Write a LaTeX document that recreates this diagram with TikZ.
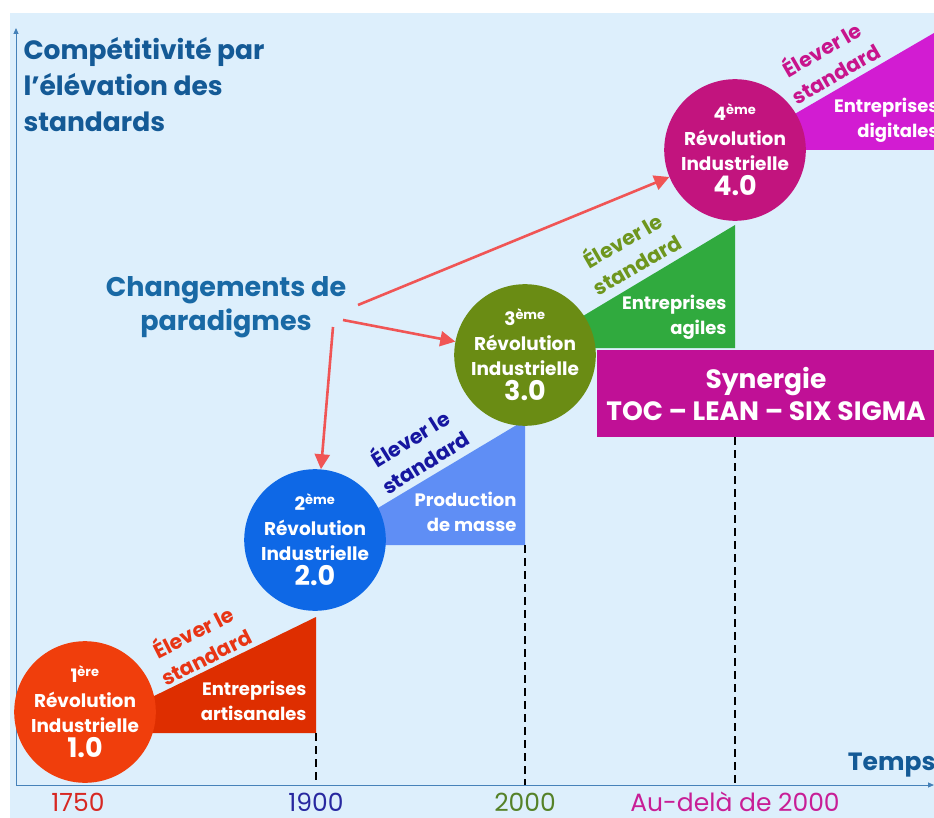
\documentclass[tikz,border=0pt]{standalone}
\usepackage{fontspec}
\setmainfont{Poppins}
\usetikzlibrary{arrows.meta}

\definecolor{bgblue}{RGB}{221,239,252}
\definecolor{axisblue}{RGB}{70,130,185}
\definecolor{titleblue}{RGB}{20,90,150}
\definecolor{chgblue}{RGB}{25,105,165}
\definecolor{arrowred}{RGB}{240,85,85}
\definecolor{revone}{RGB}{240,62,12}
\definecolor{trione}{RGB}{222,46,0}
\definecolor{revtwo}{RGB}{14,104,230}
\definecolor{tritwo}{RGB}{95,142,245}
\definecolor{revthree}{RGB}{106,140,20}
\definecolor{trithree}{RGB}{48,170,62}
\definecolor{revfour}{RGB}{194,20,126}
\definecolor{trifour}{RGB}{210,28,210}
\definecolor{synmag}{RGB}{192,16,150}
\definecolor{elvred}{RGB}{232,52,20}
\definecolor{elvblue}{RGB}{22,22,160}
\definecolor{elvgreen}{RGB}{110,150,30}
\definecolor{elvmag}{RGB}{200,20,140}
\definecolor{yrred}{RGB}{215,40,35}
\definecolor{yrblue}{RGB}{40,40,160}
\definecolor{yrgreen}{RGB}{85,130,40}
\definecolor{yrmag}{RGB}{200,30,150}

\begin{document}
\begin{tikzpicture}[x=1pt,y=-1pt,
  revo/.style={circle,minimum size=137pt,inner sep=0pt,text=white,align=center,
    font=\bfseries\fontsize{18.5}{25}\selectfont},
  elever/.style={align=center,rotate=30,inner sep=0pt,font=\bfseries\fontsize{20.5}{28}\selectfont},
  intri/.style={text=white,align=right,anchor=east,font=\bfseries\fontsize{18}{25}\selectfont},
  year/.style={font=\fontsize{25}{28}\selectfont},
  paradigm/.style={draw=arrowred,line width=2.6pt,-{Triangle[length=15pt,width=15pt]}},
  axe/.style={draw=axisblue,line width=1pt,-{Triangle[length=6pt,width=5pt]}},
  repere/.style={line width=1.2pt,dash pattern=on 8pt off 5pt}]
\useasboundingbox (0,0) rectangle (934,818);
\clip (0,0) rectangle (934,818);
\fill [bgblue] (10,13) rectangle (934,818);

\fill [trione] (150,698) -- (316,617) -- (316,733) -- (150,733) -- cycle;
\fill [tritwo] (378,508) -- (525,420) -- (525,545) -- (378,545) -- cycle;
\fill [trithree] (583,316) -- (735,225) -- (735,348) -- (583,348) -- cycle;
\fill [trifour] (793,115) -- (934,33) -- (934,150) -- (793,150) -- cycle;

\node [fill=synmag,text=white,minimum width=338pt,minimum height=87pt,align=center,
  font=\bfseries\fontsize{26.5}{32}\selectfont] (syn) at (766,393.5)
  {Synergie\\TOC -- LEAN -- SIX SIGMA};

\draw [repere] (316,733) -- (316,785);
\draw [repere] (525,545) -- (525,785);
\draw [repere] (735,437) -- (735,785);

\coordinate (origin) at (16,785);
\coordinate (ytip) at (16,28);
\coordinate (xtip) at (934,785);
\draw [axe] (origin) -- (ytip);
\draw [axe] (origin) -- (xtip);

\node [revo,fill=revone] (rev1) at (85,712)
  {1\textsuperscript{ère}\\Révolution\\Industrielle\\{\fontsize{27}{28}\selectfont 1.0}};
\node [revo,fill=revtwo] (rev2) at (315,540)
  {2\textsuperscript{ème}\\Révolution\\Industrielle\\{\fontsize{27}{28}\selectfont 2.0}};
\node [revo,fill=revthree] (rev3) at (525,355)
  {3\textsuperscript{ème}\\Révolution\\Industrielle\\{\fontsize{27}{28}\selectfont 3.0}};
\node [revo,fill=revfour] (rev4) at (735,150)
  {4\textsuperscript{ème}\\Révolution\\Industrielle\\{\fontsize{27}{28}\selectfont 4.0}};

\node [intri] (artis) at (310,701) {Entreprises\\artisanales};
\node [intri] (masse) at (520,512) {Production\\de masse};
\node [intri] (agile) at (730,317) {Entreprises\\agiles};
\node [intri] (digit) at (942,120) {Entreprises\\digitales};

\node [elever,text=elvred,rotate=-3] (elv1) at (199,643) {Élever le\\standard};
\node [elever,text=elvblue,rotate=2] (elv2) at (417,449) {Élever le\\standard};
\node [elever,text=elvgreen] (elv3) at (629,251) {Élever le\\standard};
\node [elever,text=elvmag] (elv4) at (828,60) {Élever le\\standard};

\node [anchor=north west,align=left,text=titleblue,
  font=\bfseries\fontsize{26.5}{36}\selectfont] (comp) at (20,34)
  {Compétitivité par\\l’élévation des\\standards};
\node [anchor=east,text=titleblue,font=\bfseries\fontsize{25}{28}\selectfont] (temps) at (939,765) {Temps};

\node [align=center,text=chgblue,font=\bfseries\fontsize{27}{34}\selectfont] (chg) at (226,307)
  {Changements de\\paradigmes};
\coordinate (from4) at (358,305);
\coordinate (from3) at (343,320);
\coordinate (from2) at (333,327);
\draw [paradigm] (from4) -- (rev4);
\draw [paradigm] (from3) -- (rev3);
\draw [paradigm] (from2) -- (rev2);

\node [year,text=yrred] (y1750) at (78,802) {1750};
\node [year,text=yrblue] (y1900) at (316,802) {1900};
\node [year,text=yrgreen] (y2000) at (525,802) {2000};
\node [year,text=yrmag] (yfar) at (735,802) {Au-delà de 2000};
\end{tikzpicture}
\end{document}
